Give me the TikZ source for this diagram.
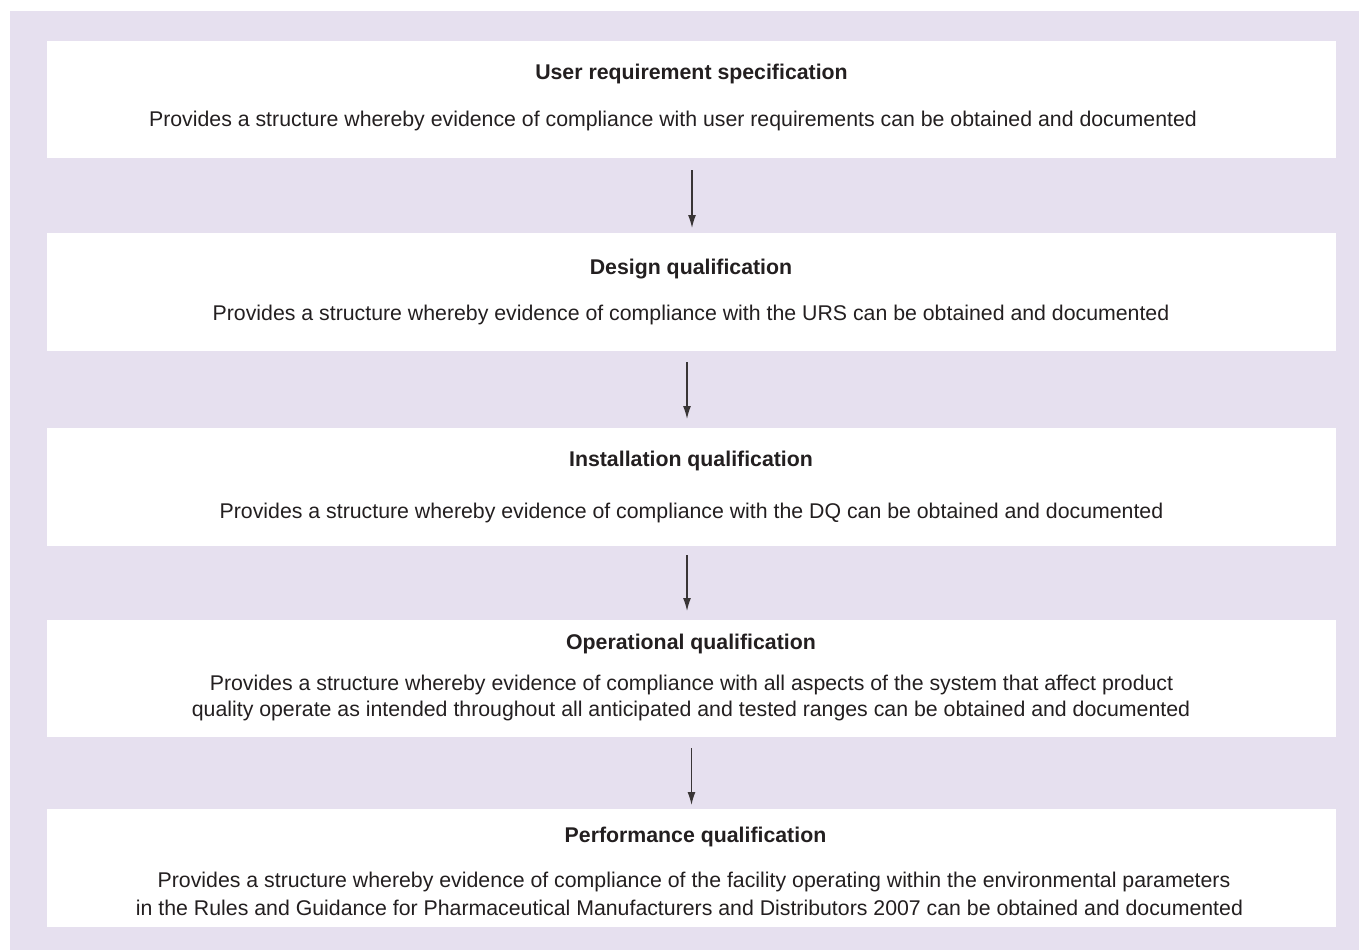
\documentclass[tikz,border=0pt]{standalone}
\usepackage{fontspec}
\setmainfont{Liberation Sans}
\usetikzlibrary{arrows.meta}
\definecolor{bglav}{HTML}{E6E0EF}
\definecolor{ink}{HTML}{231F20}
\tikzset{
  box/.style={draw=none, fill=white, minimum width=1289pt, inner sep=0pt, outer sep=0pt},
  ttl/.style={font=\fontsize{21.3}{26}\selectfont\bfseries, text=ink, inner sep=0pt, anchor=center},
  body/.style={font=\fontsize{21.3}{26}\selectfont, text=ink, inner sep=0pt, anchor=center},
  flow/.style={-{Latex[length=13pt,width=8pt]}, line width=1.3pt, draw=ink!90}
}
\begin{document}
\begin{tikzpicture}[x=1pt,y=-1pt]
\useasboundingbox (0,0) rectangle (1359,950);
\fill[bglav] (10,11) rectangle (1359,950);
% boxes
\node[box, minimum height=117pt] (b1) at (691.5,99.5) {};
\node[box, minimum height=118pt] (b2) at (691.5,292) {};
\node[box, minimum height=118pt] (b3) at (691.5,487) {};
\node[box, minimum height=117pt] (b4) at (691.5,678.5) {};
\node[box, minimum height=118pt] (b5) at (691.5,868) {};
% texts
\node[ttl] (t1) at (691.5,74) {User requirement specification};
\node[body] (d1) at (673,121) {Provides a structure whereby evidence of compliance with user requirements can be obtained and documented};
\node[ttl] (t2) at (691,269) {Design qualification};
\node[body] (d2) at (691,315) {Provides a structure whereby evidence of compliance with the URS can be obtained and documented};
\node[ttl] (t3) at (691,461) {Installation qualification};
\node[body] (d3) at (691.5,513) {Provides a structure whereby evidence of compliance with the DQ can be obtained and documented};
\node[ttl] (t4) at (691,644) {Operational qualification};
\node[body] (d4a) at (691.5,685) {Provides a structure whereby evidence of compliance with all aspects of the system that affect product};
\node[body] (d4b) at (691,711) {quality operate as intended throughout all anticipated and tested ranges can be obtained and documented};
\node[ttl] (t5) at (695.5,837) {Performance qualification};
\node[body] (d5a) at (694,882) {Provides a structure whereby evidence of compliance of the facility operating within the environmental parameters};
\node[body] (d5b) at (689.5,908) {in the Rules and Guidance for Pharmaceutical Manufacturers and Distributors 2007 can be obtained and documented};
% arrows
\draw[flow] ([shift={(0.5,12)}]b1.south) -- ([shift={(0.5,-5)}]b2.north);
\draw[flow] ([shift={(-4.5,11)}]b2.south) -- ([shift={(-4.5,-9)}]b3.north);
\draw[flow] ([shift={(-4.5,9)}]b3.south) -- ([shift={(-4.5,-9)}]b4.north);
\draw[flow] ([shift={(0,11)}]b4.south) -- ([shift={(0,-4)}]b5.north);
\end{tikzpicture}
\end{document}
